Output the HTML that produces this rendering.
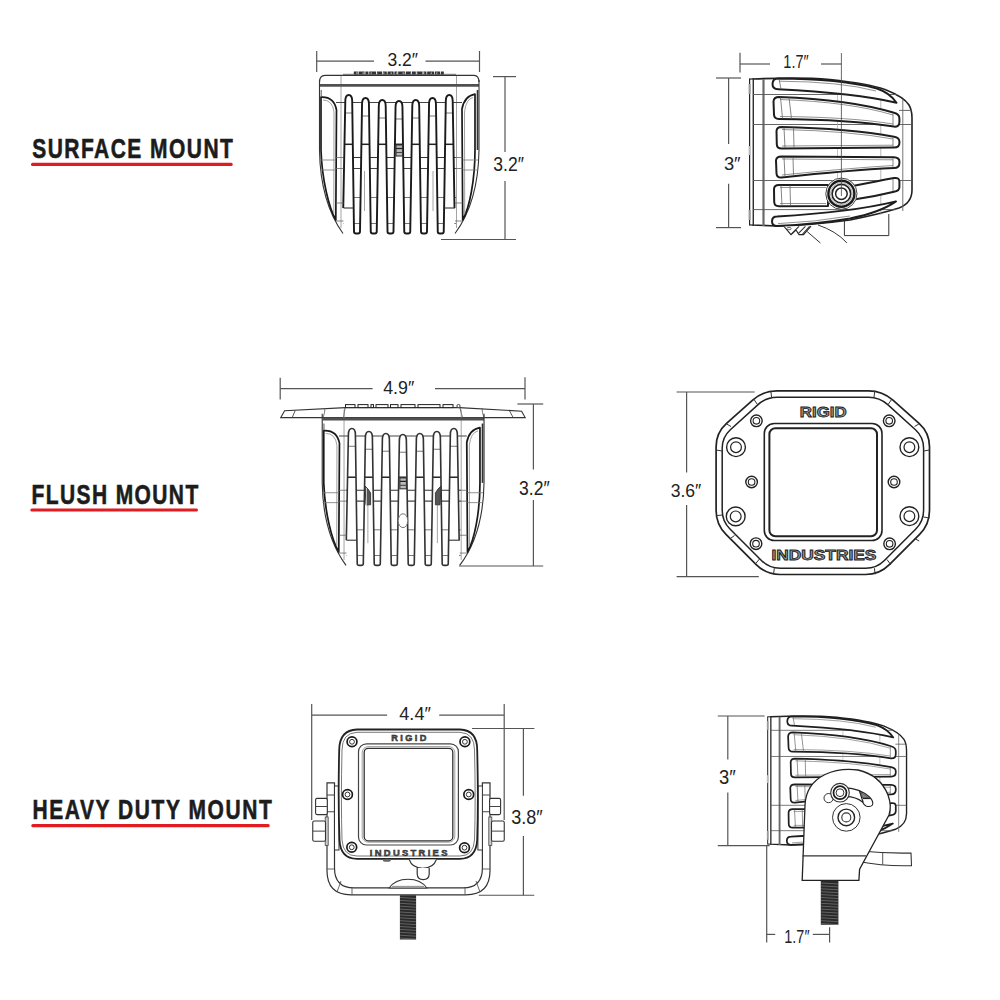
<!DOCTYPE html>
<html><head><meta charset="utf-8"><style>
html,body{margin:0;padding:0;background:#fff;}
svg{display:block;}
text{font-family:"Liberation Sans",sans-serif;}
</style></head><body>
<svg width="1000" height="1000" viewBox="0 0 1000 1000">
<rect width="1000" height="1000" fill="#fff"/>
<text transform="translate(32.2,157.9) scale(0.76,1)" x="0" y="0" font-size="27.6" font-weight="bold" textLength="264.1" lengthAdjust="spacing" fill="#1c1c1c" stroke="#1c1c1c" stroke-width="0.6" font-family="Liberation Sans">SURFACE MOUNT</text>
<rect x="31" y="162.7" width="201.7" height="3.3000000000000114" rx="1.5" fill="#e01b22"/>
<text transform="translate(31.6,503.6) scale(0.76,1)" x="0" y="0" font-size="27.6" font-weight="bold" textLength="219.2" lengthAdjust="spacing" fill="#1c1c1c" stroke="#1c1c1c" stroke-width="0.6" font-family="Liberation Sans">FLUSH MOUNT</text>
<rect x="30.3" y="508.4" width="167.7" height="3.2000000000000455" rx="1.5" fill="#e01b22"/>
<text transform="translate(32.4,819.0) scale(0.76,1)" x="0" y="0" font-size="27.6" font-weight="bold" textLength="315.0" lengthAdjust="spacing" fill="#1c1c1c" stroke="#1c1c1c" stroke-width="0.6" font-family="Liberation Sans">HEAVY DUTY MOUNT</text>
<rect x="31.3" y="823.9" width="238.39999999999998" height="3.300000000000068" rx="1.5" fill="#e01b22"/>
<line x1="316.7" y1="51" x2="316.7" y2="72" stroke="#555" stroke-width="1.2"/>
<line x1="479.5" y1="51" x2="479.5" y2="72" stroke="#555" stroke-width="1.2"/>
<line x1="316.7" y1="61.2" x2="374" y2="61.2" stroke="#555" stroke-width="1.2"/>
<line x1="425.5" y1="61.2" x2="479.5" y2="61.2" stroke="#555" stroke-width="1.2"/>
<text x="387.4" y="65.8" font-size="19.0" textLength="30.6" lengthAdjust="spacingAndGlyphs" fill="#222" font-family="Liberation Sans">3.2&#8243;</text>
<line x1="493" y1="76.6" x2="516" y2="76.6" stroke="#555" stroke-width="1.2"/>
<line x1="505" y1="76.6" x2="505" y2="152" stroke="#555" stroke-width="1.2"/>
<line x1="505" y1="181" x2="505" y2="239.5" stroke="#555" stroke-width="1.2"/>
<line x1="441" y1="239.5" x2="516" y2="239.5" stroke="#555" stroke-width="1.2"/>
<text x="493.3" y="170.8" font-size="19.5" textLength="30.6" lengthAdjust="spacingAndGlyphs" fill="#222" font-family="Liberation Sans">3.2&#8243;</text>
<path d="M319.5,82 Q319.5,75.5 325,75.3 L474,75.3 Q479,75.5 479,82" fill="none" stroke="#333" stroke-width="1.2"/>
<line x1="343" y1="74.3" x2="456" y2="74.3" stroke="#555" stroke-width="0.8"/>
<path d="M353.8,73.1 h90" stroke="#333" stroke-width="3" stroke-dasharray="4 0.8 6 0.8 3 0.8 7 0.8 5 0.8" fill="none"/>
<path d="M356,73.1 h86" stroke="#fff" stroke-width="0.8" stroke-dasharray="1.5 5 2 6 1.5 4" fill="none"/>
<line x1="341" y1="76" x2="341" y2="228" stroke="#9a9a9a" stroke-width="0.9"/>
<line x1="456.5" y1="76" x2="456.5" y2="228" stroke="#9a9a9a" stroke-width="0.9"/>
<line x1="336" y1="102.5" x2="462" y2="102.5" stroke="#444" stroke-width="1"/>
<line x1="343" y1="157.5" x2="456" y2="157.5" stroke="#333" stroke-width="1.2"/>
<line x1="343" y1="168.5" x2="456" y2="168.5" stroke="#444" stroke-width="1.1"/>
<line x1="343" y1="197.5" x2="456" y2="197.5" stroke="#666" stroke-width="0.9"/>
<line x1="343" y1="223.5" x2="456" y2="223.5" stroke="#666" stroke-width="0.9"/>
<path d="M343.25,233.5 L345.30,101 Q345.40,95 348.75,95 Q352.10,95 352.20,101 L354.00,233.5 Z" fill="#fff"/>
<line x1="344.80" y1="113" x2="352.70" y2="113" stroke="#666" stroke-width="0.9"/>
<line x1="344.70" y1="144.3" x2="352.80" y2="144.3" stroke="#222" stroke-width="1.5"/>
<path d="M360.00,233.5 L362.05,104 Q362.15,98 365.50,98 Q368.85,98 368.95,104 L370.75,233.5 Z" fill="#fff"/>
<line x1="361.55" y1="116" x2="369.45" y2="116" stroke="#666" stroke-width="0.9"/>
<line x1="361.45" y1="144.3" x2="369.55" y2="144.3" stroke="#222" stroke-width="1.5"/>
<path d="M376.75,233.5 L378.80,106 Q378.90,100 382.25,100 Q385.60,100 385.70,106 L387.50,233.5 Z" fill="#fff"/>
<line x1="378.30" y1="118" x2="386.20" y2="118" stroke="#666" stroke-width="0.9"/>
<line x1="378.20" y1="144.3" x2="386.30" y2="144.3" stroke="#222" stroke-width="1.5"/>
<path d="M393.50,233.5 L395.55,107 Q395.65,101 399.00,101 Q402.35,101 402.45,107 L404.25,233.5 Z" fill="#fff"/>
<line x1="395.05" y1="119" x2="402.95" y2="119" stroke="#666" stroke-width="0.9"/>
<line x1="394.95" y1="144.3" x2="403.05" y2="144.3" stroke="#222" stroke-width="1.5"/>
<path d="M410.25,233.5 L412.30,106 Q412.40,100 415.75,100 Q419.10,100 419.20,106 L421.00,233.5 Z" fill="#fff"/>
<line x1="411.80" y1="118" x2="419.70" y2="118" stroke="#666" stroke-width="0.9"/>
<line x1="411.70" y1="144.3" x2="419.80" y2="144.3" stroke="#222" stroke-width="1.5"/>
<path d="M427.00,233.5 L429.05,104 Q429.15,98 432.50,98 Q435.85,98 435.95,104 L437.75,233.5 Z" fill="#fff"/>
<line x1="428.55" y1="116" x2="436.45" y2="116" stroke="#666" stroke-width="0.9"/>
<line x1="428.45" y1="144.3" x2="436.55" y2="144.3" stroke="#222" stroke-width="1.5"/>
<path d="M443.75,233.5 L445.80,101 Q445.90,95 449.25,95 Q452.60,95 452.70,101 L454.50,233.5 Z" fill="#fff"/>
<line x1="445.30" y1="113" x2="453.20" y2="113" stroke="#666" stroke-width="0.9"/>
<line x1="445.20" y1="144.3" x2="453.30" y2="144.3" stroke="#222" stroke-width="1.5"/>
<path d="M343.25,208 L345.30,101 Q345.40,95 348.75,95 Q352.10,95 352.20,101 L354.00,231.5 Q354.00,233.5 356.00,233.5 L358.00,233.5 Q360.00,233.5 360.00,231.5 L362.05,104 Q362.15,98 365.50,98 Q368.85,98 368.95,104 L370.75,231.5 Q370.75,233.5 372.75,233.5 L374.75,233.5 Q376.75,233.5 376.75,231.5 L378.80,106 Q378.90,100 382.25,100 Q385.60,100 385.70,106 L387.50,231.5 Q387.50,233.5 389.50,233.5 L391.50,233.5 Q393.50,233.5 393.50,231.5 L395.55,107 Q395.65,101 399.00,101 Q402.35,101 402.45,107 L404.25,231.5 Q404.25,233.5 406.25,233.5 L408.25,233.5 Q410.25,233.5 410.25,231.5 L412.30,106 Q412.40,100 415.75,100 Q419.10,100 419.20,106 L421.00,231.5 Q421.00,233.5 423.00,233.5 L425.00,233.5 Q427.00,233.5 427.00,231.5 L429.05,104 Q429.15,98 432.50,98 Q435.85,98 435.95,104 L437.75,231.5 Q437.75,233.5 439.75,233.5 L441.75,233.5 Q443.75,233.5 443.75,231.5 L445.80,101 Q445.90,95 449.25,95 Q452.60,95 452.70,101 L454.50,208" fill="none" stroke="#1a1a1a" stroke-width="1.9" stroke-linejoin="round"/>
<line x1="364.5" y1="171" x2="364.5" y2="211" stroke="#9a9a9a" stroke-width="0.9"/>
<line x1="433" y1="171" x2="433" y2="211" stroke="#9a9a9a" stroke-width="0.9"/>
<rect x="396" y="145" width="6.5" height="11" fill="#bbb" stroke="#333" stroke-width="1.1"/>
<line x1="396" y1="148.5" x2="402.5" y2="148.5" stroke="#222" stroke-width="1.3"/>
<line x1="396" y1="152.5" x2="402.5" y2="152.5" stroke="#444" stroke-width="1.1"/>
<line x1="343.5" y1="208" x2="353.8" y2="208" stroke="#333" stroke-width="1.1"/>
<line x1="444" y1="208" x2="455" y2="208" stroke="#333" stroke-width="1.1"/>
<line x1="320" y1="85.4" x2="479" y2="85.4" stroke="#505050" stroke-width="2.8"/>
<path d="M319.5,80 L319.5,150 C320,185 329,214 343,233.5" fill="none" stroke="#333" stroke-width="1.1"/>
<path d="M479,80 L479,150 C478.5,185 469.5,214 455,233.5" fill="none" stroke="#333" stroke-width="1.1"/>
<path d="M321,97.2 Q334,96.5 336.5,110 L335.8,220 C329,208 322,180 321,150 Z" fill="#fff" stroke="#1a1a1a" stroke-width="1.7" stroke-linejoin="round"/>
<path d="M323,100 Q332.5,100 334,112 L333.8,214" fill="none" stroke="#888" stroke-width="0.8"/>
<path d="M475,94.2 Q464.5,96 462,109 L462.7,220 C469.5,208 475,180 475,150 Z" fill="#fff" stroke="#1a1a1a" stroke-width="1.7" stroke-linejoin="round"/>
<path d="M473,97.5 Q466,99 464.5,112 L464.7,214" fill="none" stroke="#888" stroke-width="0.8"/>
<line x1="477.5" y1="90" x2="477.5" y2="150" stroke="#333" stroke-width="1.6"/>
<line x1="321.2" y1="90" x2="321.2" y2="97" stroke="#555" stroke-width="1"/>
<line x1="336" y1="157.5" x2="343.5" y2="157.5" stroke="#666" stroke-width="0.8"/>
<line x1="455" y1="157.5" x2="462.5" y2="157.5" stroke="#666" stroke-width="0.8"/>
<line x1="336" y1="168.5" x2="343.5" y2="168.5" stroke="#666" stroke-width="0.8"/>
<line x1="455" y1="168.5" x2="462.5" y2="168.5" stroke="#666" stroke-width="0.8"/>
<line x1="336" y1="203" x2="343.5" y2="203" stroke="#666" stroke-width="0.8"/>
<line x1="455" y1="203" x2="462.5" y2="203" stroke="#666" stroke-width="0.8"/>
<line x1="336" y1="221" x2="343.5" y2="221" stroke="#666" stroke-width="0.8"/>
<line x1="455" y1="221" x2="462.5" y2="221" stroke="#666" stroke-width="0.8"/>
<line x1="320" y1="160" x2="336" y2="160" stroke="#777" stroke-width="0.8"/>
<line x1="320" y1="170" x2="336" y2="170" stroke="#777" stroke-width="0.8"/>
<line x1="462.5" y1="160" x2="478" y2="160" stroke="#777" stroke-width="0.8"/>
<line x1="462.5" y1="170" x2="478" y2="170" stroke="#777" stroke-width="0.8"/>
<line x1="740" y1="52.8" x2="740" y2="72.6" stroke="#555" stroke-width="1.2"/>
<line x1="740" y1="64" x2="770" y2="64" stroke="#555" stroke-width="1.2"/>
<line x1="821" y1="64" x2="841.5" y2="64" stroke="#555" stroke-width="1.2"/>
<text x="783.3" y="67.6" font-size="19.2" textLength="25.4" lengthAdjust="spacingAndGlyphs" fill="#222" font-family="Liberation Sans">1.7&#8243;</text>
<line x1="716" y1="78" x2="741" y2="78" stroke="#555" stroke-width="1.2"/>
<line x1="728.6" y1="78" x2="728.6" y2="144" stroke="#555" stroke-width="1.2"/>
<line x1="728.6" y1="183.8" x2="728.6" y2="227.6" stroke="#555" stroke-width="1.2"/>
<line x1="716" y1="227.6" x2="741" y2="227.6" stroke="#555" stroke-width="1.2"/>
<text x="723.9" y="169.5" font-size="19.2" textLength="16.7" lengthAdjust="spacingAndGlyphs" fill="#222" font-family="Liberation Sans">3&#8243;</text>
<path d="M753,79 Q800,77 830,79.5 Q868,83.5 885,89.5 Q904,97 909,105 Q912,110 912,118 L912,190 Q912,203 899,208 Q880,214 850,220 Q810,225.5 776,226 L753,225 Z" fill="#fff" stroke="#222" stroke-width="1.6"/>
<rect x="749.6" y="79" width="3.6" height="146" fill="#fff" stroke="#222" stroke-width="1.2"/>
<rect x="748.6" y="84" width="2" height="10" fill="#999"/><rect x="748.6" y="146" width="2" height="9" fill="#bbb"/><rect x="748.6" y="210" width="2" height="10" fill="#999"/>
<line x1="763.5" y1="79" x2="763.5" y2="226" stroke="#6a6a6a" stroke-width="2.2"/>
<line x1="753" y1="94.5" x2="897" y2="94.5" stroke="#555" stroke-width="0.9"/>
<line x1="753" y1="124.5" x2="912" y2="124.5" stroke="#555" stroke-width="0.9"/>
<line x1="753" y1="180.5" x2="912" y2="180.5" stroke="#555" stroke-width="0.9"/>
<line x1="753" y1="209.6" x2="896" y2="209.6" stroke="#555" stroke-width="0.9"/>
<line x1="899" y1="110.4" x2="912" y2="110.4" stroke="#555" stroke-width="0.9"/>
<line x1="902.8" y1="99" x2="902.8" y2="211" stroke="#666" stroke-width="0.9"/>
<line x1="880.8" y1="96" x2="880.8" y2="215" stroke="#999" stroke-width="0.7"/>
<line x1="837.5" y1="88" x2="837.5" y2="220" stroke="#aaa" stroke-width="0.7"/>
<path d="M778,78.6 Q840,78.8 877,88.5 Q890,93 896.5,102.7 Q855,93 778,89.2 Q772.5,89 772.5,84 Q772.8,78.6 778,78.6 Z" fill="#fff" stroke="#1e1e1e" stroke-width="2.0" stroke-linejoin="round"/>
<path d="M779,97 Q850,99.5 894,112.8 Q899.4,114.2 899.4,118.5 L899.4,122 Q899.4,127 894,126.6 Q850,119.5 779,119 Q774.2,119 774,114.5 L773.5,101.5 Q773.8,97 779,97 Z" fill="#fff" stroke="#1e1e1e" stroke-width="2.0" stroke-linejoin="round"/>
<path d="M781.5,127 Q850,128.5 894,136.8 Q899.4,137.8 899.4,141.5 L899.4,143 Q899.4,147.6 894,147.6 L781.5,148.5 Q777,148.5 776.8,144.5 L776.5,131 Q776.8,127 781.5,127 Z" fill="#fff" stroke="#1e1e1e" stroke-width="2.0" stroke-linejoin="round"/>
<path d="M781.5,156.5 L894,157.2 Q899.4,157.5 899.4,161.5 L899.4,163 Q899.4,168 894,168 Q850,170 781.5,177.5 Q776.8,177.8 776.5,173.5 L776,160.5 Q776.3,156.5 781.5,156.5 Z" fill="#fff" stroke="#1e1e1e" stroke-width="2.0" stroke-linejoin="round"/>
<path d="M779,185 L828,185 L828,206 L779,206.2 Q774.3,206.2 774.2,202 L774,189 Q774.2,185 779,185 Z" fill="#fff" stroke="#1e1e1e" stroke-width="2.0" stroke-linejoin="round"/>
<path d="M854,185.8 Q878,181 894,178 Q899.4,177.3 899.4,181.5 L899.4,187 Q899.4,191 894,191.8 Q875,196.5 854,199.6 Z" fill="#fff" stroke="#1e1e1e" stroke-width="2.0" stroke-linejoin="round"/>
<path d="M777,216.4 Q850,212.5 896,201.4 Q880,212.5 850,218.5 Q815,224.5 777,226 Q772,226 772,221.2 Q772,216.4 777,216.4 Z" fill="#fff" stroke="#1e1e1e" stroke-width="2.0" stroke-linejoin="round"/>
<path d="M779,81.2 Q840,81.5 876,91" fill="none" stroke="#777" stroke-width="0.8"/>
<path d="M780,99.5 Q850,102 893,115" fill="none" stroke="#777" stroke-width="0.8"/>
<path d="M782,129.5 Q850,131 893,139" fill="none" stroke="#777" stroke-width="0.8"/>
<path d="M782,159 L893,159.8" fill="none" stroke="#777" stroke-width="0.8"/>
<path d="M780,187.5 L826,187.5" fill="none" stroke="#777" stroke-width="0.8"/>
<path d="M780,116.5 Q850,117 893,124" fill="none" stroke="#777" stroke-width="0.8"/>
<path d="M782,146 L893,145.2" fill="none" stroke="#777" stroke-width="0.8"/>
<path d="M782,175 Q850,168 893,165.5" fill="none" stroke="#777" stroke-width="0.8"/>
<path d="M780,203.5 L826,203.5" fill="none" stroke="#777" stroke-width="0.8"/>
<path d="M778,223.6 Q815,222 850,216" fill="none" stroke="#777" stroke-width="0.8"/>
<line x1="780.5" y1="97.5" x2="782.5" y2="118.5" stroke="#666" stroke-width="0.8"/>
<line x1="789" y1="97.5" x2="791.5" y2="118.8" stroke="#666" stroke-width="0.8"/>
<line x1="784" y1="127.5" x2="785" y2="148" stroke="#666" stroke-width="0.8"/>
<line x1="793.5" y1="127.5" x2="794" y2="148" stroke="#666" stroke-width="0.8"/>
<line x1="784" y1="157" x2="785" y2="177" stroke="#666" stroke-width="0.8"/>
<line x1="793" y1="157" x2="793.5" y2="176" stroke="#666" stroke-width="0.8"/>
<line x1="781" y1="185.5" x2="782" y2="205.5" stroke="#666" stroke-width="0.8"/>
<line x1="790" y1="185.5" x2="790.5" y2="205.5" stroke="#666" stroke-width="0.8"/>
<line x1="779" y1="79" x2="781" y2="88.6" stroke="#666" stroke-width="0.8"/>
<line x1="893" y1="113.5" x2="893" y2="126" stroke="#666" stroke-width="0.8"/>
<line x1="893" y1="137.5" x2="893" y2="147" stroke="#666" stroke-width="0.8"/>
<line x1="893" y1="158" x2="893" y2="167.5" stroke="#666" stroke-width="0.8"/>
<line x1="893" y1="179" x2="893" y2="191" stroke="#666" stroke-width="0.8"/>
<circle cx="841.4" cy="193.7" r="15.6" fill="#fff" stroke="#444" stroke-width="1"/>
<circle cx="841.4" cy="193.7" r="13" fill="none" stroke="#1a1a1a" stroke-width="2.4"/>
<circle cx="841.4" cy="193.7" r="11" fill="none" stroke="#999" stroke-width="0.8"/>
<circle cx="841.4" cy="193.7" r="9.3" fill="none" stroke="#222" stroke-width="1.6"/>
<circle cx="841.4" cy="193.7" r="5.8" fill="none" stroke="#222" stroke-width="1.5"/>
<line x1="841.4" y1="53" x2="841.4" y2="196" stroke="#444" stroke-width="0.8"/>
<path d="M784,226.5 L791,234.6 L796,230 L799,234.6 L803.5,234.6 L811,226.2" fill="#fff" stroke="#222" stroke-width="1.1"/>
<path d="M791.5,233.8 L799,226.4 M798.2,233.6 L805.4,226.4 M802.6,234 L809.6,226.4" stroke="#333" stroke-width="1.1"/>
<ellipse cx="789" cy="228.6" rx="2.2" ry="1.2" fill="none" stroke="#444" stroke-width="0.8"/>
<line x1="807.2" y1="231.6" x2="820.4" y2="243" stroke="#333" stroke-width="1"/>
<path d="M818,225 Q836,231 846.8,242.8" fill="none" stroke="#333" stroke-width="1"/>
<path d="M844.4,220.5 L844.4,235.6 L888.8,235.6 L888.8,214" fill="none" stroke="#333" stroke-width="1"/>
<line x1="280.2" y1="377.8" x2="280.2" y2="399.4" stroke="#555" stroke-width="1.2"/>
<line x1="525" y1="377.2" x2="525" y2="399.4" stroke="#555" stroke-width="1.2"/>
<line x1="280.2" y1="388.6" x2="372.6" y2="388.6" stroke="#555" stroke-width="1.2"/>
<line x1="435" y1="388.6" x2="525" y2="388.6" stroke="#555" stroke-width="1.2"/>
<text x="383.2" y="393.7" font-size="18.9" textLength="31.1" lengthAdjust="spacingAndGlyphs" fill="#222" font-family="Liberation Sans">4.9&#8243;</text>
<line x1="517.4" y1="404" x2="543.2" y2="404" stroke="#555" stroke-width="1.2"/>
<line x1="533.4" y1="404" x2="533.4" y2="469.6" stroke="#555" stroke-width="1.2"/>
<line x1="533.4" y1="500" x2="533.4" y2="566" stroke="#555" stroke-width="1.2"/>
<line x1="459" y1="566" x2="543.2" y2="566" stroke="#555" stroke-width="1.2"/>
<text x="519.1" y="494.8" font-size="19.5" textLength="30.6" lengthAdjust="spacingAndGlyphs" fill="#222" font-family="Liberation Sans">3.2&#8243;</text>
<path d="M280.8,417.6 L284.6,410.8 L345.6,407.6 L459.2,407.6 L521.6,411.2 L525.2,417.6 Z" fill="#fff" stroke="#333" stroke-width="1.1"/>
<line x1="295.2" y1="410.6" x2="292.2" y2="417.6" stroke="#444" stroke-width="0.9"/>
<line x1="509.6" y1="411" x2="513.2" y2="417.6" stroke="#444" stroke-width="0.9"/>
<path d="M323,418 Q325,412 325,408" fill="none" stroke="#555" stroke-width="0.8"/>
<path d="M484,418 Q482,412 482,408" fill="none" stroke="#555" stroke-width="0.8"/>
<rect x="345.5" y="404.6" width="9.5" height="3" fill="#fff" stroke="#222" stroke-width="1"/>
<rect x="358" y="404.6" width="10" height="3" fill="#fff" stroke="#222" stroke-width="1"/>
<rect x="371" y="404.6" width="2.5" height="3" fill="#fff" stroke="#222" stroke-width="1"/>
<rect x="376" y="404.6" width="12" height="3" fill="#fff" stroke="#222" stroke-width="1"/>
<rect x="390.5" y="404.6" width="7.5" height="3" fill="#fff" stroke="#222" stroke-width="1"/>
<rect x="401" y="404.6" width="14" height="3" fill="#fff" stroke="#222" stroke-width="1"/>
<rect x="418" y="404.6" width="22" height="3" fill="#fff" stroke="#222" stroke-width="1"/>
<rect x="443" y="404.6" width="10" height="3" fill="#fff" stroke="#222" stroke-width="1"/>
<circle cx="458.5" cy="406" r="1.6" fill="#fff" stroke="#333" stroke-width="0.9"/>
<line x1="345" y1="408" x2="343.5" y2="418" stroke="#444" stroke-width="0.9"/>
<line x1="460" y1="408" x2="462.5" y2="418" stroke="#444" stroke-width="0.9"/>
<g transform="translate(351.9,418.6) scale(1.0144,0.9886) translate(-348.75,-85)"><line x1="341" y1="76" x2="341" y2="228" stroke="#9a9a9a" stroke-width="0.9"/>
<line x1="456.5" y1="76" x2="456.5" y2="228" stroke="#9a9a9a" stroke-width="0.9"/>
<line x1="336" y1="102.5" x2="462" y2="102.5" stroke="#444" stroke-width="1"/>
<line x1="343" y1="157.5" x2="456" y2="157.5" stroke="#333" stroke-width="1.2"/>
<line x1="343" y1="168.5" x2="456" y2="168.5" stroke="#444" stroke-width="1.1"/>
<line x1="343" y1="197.5" x2="456" y2="197.5" stroke="#666" stroke-width="0.9"/>
<line x1="343" y1="223.5" x2="456" y2="223.5" stroke="#666" stroke-width="0.9"/>
<path d="M343.25,233.5 L345.30,101 Q345.40,95 348.75,95 Q352.10,95 352.20,101 L354.00,233.5 Z" fill="#fff"/>
<line x1="344.80" y1="113" x2="352.70" y2="113" stroke="#666" stroke-width="0.9"/>
<line x1="344.70" y1="144.3" x2="352.80" y2="144.3" stroke="#222" stroke-width="1.5"/>
<path d="M360.00,233.5 L362.05,104 Q362.15,98 365.50,98 Q368.85,98 368.95,104 L370.75,233.5 Z" fill="#fff"/>
<line x1="361.55" y1="116" x2="369.45" y2="116" stroke="#666" stroke-width="0.9"/>
<line x1="361.45" y1="144.3" x2="369.55" y2="144.3" stroke="#222" stroke-width="1.5"/>
<path d="M376.75,233.5 L378.80,106 Q378.90,100 382.25,100 Q385.60,100 385.70,106 L387.50,233.5 Z" fill="#fff"/>
<line x1="378.30" y1="118" x2="386.20" y2="118" stroke="#666" stroke-width="0.9"/>
<line x1="378.20" y1="144.3" x2="386.30" y2="144.3" stroke="#222" stroke-width="1.5"/>
<path d="M393.50,233.5 L395.55,107 Q395.65,101 399.00,101 Q402.35,101 402.45,107 L404.25,233.5 Z" fill="#fff"/>
<line x1="395.05" y1="119" x2="402.95" y2="119" stroke="#666" stroke-width="0.9"/>
<line x1="394.95" y1="144.3" x2="403.05" y2="144.3" stroke="#222" stroke-width="1.5"/>
<path d="M410.25,233.5 L412.30,106 Q412.40,100 415.75,100 Q419.10,100 419.20,106 L421.00,233.5 Z" fill="#fff"/>
<line x1="411.80" y1="118" x2="419.70" y2="118" stroke="#666" stroke-width="0.9"/>
<line x1="411.70" y1="144.3" x2="419.80" y2="144.3" stroke="#222" stroke-width="1.5"/>
<path d="M427.00,233.5 L429.05,104 Q429.15,98 432.50,98 Q435.85,98 435.95,104 L437.75,233.5 Z" fill="#fff"/>
<line x1="428.55" y1="116" x2="436.45" y2="116" stroke="#666" stroke-width="0.9"/>
<line x1="428.45" y1="144.3" x2="436.55" y2="144.3" stroke="#222" stroke-width="1.5"/>
<path d="M443.75,233.5 L445.80,101 Q445.90,95 449.25,95 Q452.60,95 452.70,101 L454.50,233.5 Z" fill="#fff"/>
<line x1="445.30" y1="113" x2="453.20" y2="113" stroke="#666" stroke-width="0.9"/>
<line x1="445.20" y1="144.3" x2="453.30" y2="144.3" stroke="#222" stroke-width="1.5"/>
<path d="M343.25,208 L345.30,101 Q345.40,95 348.75,95 Q352.10,95 352.20,101 L354.00,231.5 Q354.00,233.5 356.00,233.5 L358.00,233.5 Q360.00,233.5 360.00,231.5 L362.05,104 Q362.15,98 365.50,98 Q368.85,98 368.95,104 L370.75,231.5 Q370.75,233.5 372.75,233.5 L374.75,233.5 Q376.75,233.5 376.75,231.5 L378.80,106 Q378.90,100 382.25,100 Q385.60,100 385.70,106 L387.50,231.5 Q387.50,233.5 389.50,233.5 L391.50,233.5 Q393.50,233.5 393.50,231.5 L395.55,107 Q395.65,101 399.00,101 Q402.35,101 402.45,107 L404.25,231.5 Q404.25,233.5 406.25,233.5 L408.25,233.5 Q410.25,233.5 410.25,231.5 L412.30,106 Q412.40,100 415.75,100 Q419.10,100 419.20,106 L421.00,231.5 Q421.00,233.5 423.00,233.5 L425.00,233.5 Q427.00,233.5 427.00,231.5 L429.05,104 Q429.15,98 432.50,98 Q435.85,98 435.95,104 L437.75,231.5 Q437.75,233.5 439.75,233.5 L441.75,233.5 Q443.75,233.5 443.75,231.5 L445.80,101 Q445.90,95 449.25,95 Q452.60,95 452.70,101 L454.50,208" fill="none" stroke="#333" stroke-width="1.6" stroke-linejoin="round"/>
<line x1="364.5" y1="171" x2="364.5" y2="211" stroke="#9a9a9a" stroke-width="0.9"/>
<line x1="433" y1="171" x2="433" y2="211" stroke="#9a9a9a" stroke-width="0.9"/>
<rect x="396" y="145" width="6.5" height="11" fill="#bbb" stroke="#333" stroke-width="1.1"/>
<line x1="396" y1="148.5" x2="402.5" y2="148.5" stroke="#222" stroke-width="1.3"/>
<line x1="396" y1="152.5" x2="402.5" y2="152.5" stroke="#444" stroke-width="1.1"/>
<line x1="343.5" y1="208" x2="353.8" y2="208" stroke="#333" stroke-width="1.1"/>
<line x1="444" y1="208" x2="455" y2="208" stroke="#333" stroke-width="1.1"/>
<line x1="320" y1="85.4" x2="479" y2="85.4" stroke="#505050" stroke-width="2.8"/>
<path d="M319.5,80 L319.5,150 C320,185 329,214 343,233.5" fill="none" stroke="#333" stroke-width="1.1"/>
<path d="M479,80 L479,150 C478.5,185 469.5,214 455,233.5" fill="none" stroke="#333" stroke-width="1.1"/>
<path d="M321,97.2 Q334,96.5 336.5,110 L335.8,220 C329,208 322,180 321,150 Z" fill="#fff" stroke="#1a1a1a" stroke-width="1.7" stroke-linejoin="round"/>
<path d="M323,100 Q332.5,100 334,112 L333.8,214" fill="none" stroke="#888" stroke-width="0.8"/>
<path d="M475,94.2 Q464.5,96 462,109 L462.7,220 C469.5,208 475,180 475,150 Z" fill="#fff" stroke="#1a1a1a" stroke-width="1.7" stroke-linejoin="round"/>
<path d="M473,97.5 Q466,99 464.5,112 L464.7,214" fill="none" stroke="#888" stroke-width="0.8"/>
<line x1="477.5" y1="90" x2="477.5" y2="150" stroke="#333" stroke-width="1.6"/>
<line x1="321.2" y1="90" x2="321.2" y2="97" stroke="#555" stroke-width="1"/>
<line x1="336" y1="157.5" x2="343.5" y2="157.5" stroke="#666" stroke-width="0.8"/>
<line x1="455" y1="157.5" x2="462.5" y2="157.5" stroke="#666" stroke-width="0.8"/>
<line x1="336" y1="168.5" x2="343.5" y2="168.5" stroke="#666" stroke-width="0.8"/>
<line x1="455" y1="168.5" x2="462.5" y2="168.5" stroke="#666" stroke-width="0.8"/>
<line x1="336" y1="203" x2="343.5" y2="203" stroke="#666" stroke-width="0.8"/>
<line x1="455" y1="203" x2="462.5" y2="203" stroke="#666" stroke-width="0.8"/>
<line x1="336" y1="221" x2="343.5" y2="221" stroke="#666" stroke-width="0.8"/>
<line x1="455" y1="221" x2="462.5" y2="221" stroke="#666" stroke-width="0.8"/>
<line x1="320" y1="160" x2="336" y2="160" stroke="#777" stroke-width="0.8"/>
<line x1="320" y1="170" x2="336" y2="170" stroke="#777" stroke-width="0.8"/>
<line x1="462.5" y1="160" x2="478" y2="160" stroke="#777" stroke-width="0.8"/>
<line x1="462.5" y1="170" x2="478" y2="170" stroke="#777" stroke-width="0.8"/></g>
<path d="M365,486 L368,489 L370.6,493 L370.6,504.8 L366,504.8 Z" fill="#555" stroke="#333" stroke-width="0.9"/>
<line x1="366.5" y1="488" x2="366.5" y2="505" stroke="#ddd" stroke-width="0.8"/>
<path d="M441,486 L438,489 L435.4,493 L435.4,504.8 L440,504.8 Z" fill="#555" stroke="#333" stroke-width="0.9"/>
<ellipse cx="403" cy="520.7" rx="4.8" ry="6.9" fill="#fff" stroke="#666" stroke-width="0.9"/>
<line x1="676.6" y1="392" x2="754.6" y2="392" stroke="#555" stroke-width="1.2"/>
<line x1="686.6" y1="392" x2="686.6" y2="472.4" stroke="#555" stroke-width="1.2"/>
<line x1="686.6" y1="505" x2="686.6" y2="576.6" stroke="#555" stroke-width="1.2"/>
<line x1="676.6" y1="576.6" x2="758.8" y2="576.6" stroke="#555" stroke-width="1.2"/>
<text x="670.7" y="497.0" font-size="19.2" textLength="30.6" lengthAdjust="spacingAndGlyphs" fill="#222" font-family="Liberation Sans">3.6&#8243;</text>
<path d="M752.66,400.13 Q763.10,390.80 777.10,390.80 L868.50,390.80 Q882.50,390.80 892.94,400.13 L919.06,423.47 Q929.50,432.80 929.50,446.80 L929.50,510.50 Q929.50,524.50 919.60,534.40 L889.40,564.60 Q879.50,574.50 865.50,574.50 L780.10,574.50 Q766.10,574.50 756.20,564.60 L726.00,534.40 Q716.10,524.50 716.10,510.50 L716.10,446.80 Q716.10,432.80 726.54,423.47 Z" fill="none" stroke="#222" stroke-width="1.7"/>
<path d="M758.06,404.60 Q766.20,397.20 777.20,397.20 L868.60,397.20 Q879.60,397.20 887.74,404.60 L915.46,429.80 Q923.60,437.20 923.60,448.20 L923.60,510.20 Q923.60,521.20 915.82,528.98 L884.38,560.42 Q876.60,568.20 865.60,568.20 L780.20,568.20 Q769.20,568.20 761.42,560.42 L729.98,528.98 Q722.20,521.20 722.20,510.20 L722.20,448.20 Q722.20,437.20 730.34,429.80 Z" fill="none" stroke="#222" stroke-width="1.5"/>
<line x1="770.8" y1="390.8" x2="771.6" y2="397.2" stroke="#333" stroke-width="1"/>
<line x1="874.8" y1="390.8" x2="874" y2="397.2" stroke="#333" stroke-width="1"/>
<line x1="754" y1="399.5" x2="757.5" y2="404.5" stroke="#333" stroke-width="1"/>
<line x1="891.6" y1="399.5" x2="888.1" y2="404.5" stroke="#333" stroke-width="1"/>
<line x1="726.4" y1="423.8" x2="731" y2="426.5" stroke="#333" stroke-width="1"/>
<line x1="919.2" y1="423.8" x2="914.6" y2="426.5" stroke="#333" stroke-width="1"/>
<line x1="716.1" y1="450" x2="722.2" y2="451" stroke="#333" stroke-width="1"/>
<line x1="929.5" y1="450" x2="923.6" y2="451" stroke="#333" stroke-width="1"/>
<line x1="716.1" y1="515.7" x2="722.2" y2="515" stroke="#333" stroke-width="1"/>
<line x1="929.5" y1="518" x2="923.6" y2="517" stroke="#333" stroke-width="1"/>
<line x1="730" y1="538.8" x2="734.5" y2="535.5" stroke="#333" stroke-width="1"/>
<line x1="890.8" y1="564.8" x2="887" y2="559.5" stroke="#333" stroke-width="1"/>
<line x1="755.3" y1="564" x2="759.5" y2="559" stroke="#333" stroke-width="1"/>
<line x1="773.5" y1="574.5" x2="774.3" y2="568.2" stroke="#333" stroke-width="1"/>
<line x1="875.2" y1="574.4" x2="874.4" y2="568.2" stroke="#333" stroke-width="1"/>
<line x1="919.2" y1="541" x2="914.6" y2="538.5" stroke="#333" stroke-width="1"/>
<rect x="764.3" y="423.5" width="117.7" height="117" rx="10" fill="none" stroke="#222" stroke-width="1.6"/>
<rect x="769.4" y="428.2" width="107.6" height="108" rx="6" fill="none" stroke="#222" stroke-width="2"/>
<circle cx="756.4" cy="420.8" r="5.8" fill="none" stroke="#222" stroke-width="1.4"/><circle cx="756.4" cy="420.8" r="3.3" fill="none" stroke="#222" stroke-width="1.1"/>
<circle cx="889.2" cy="420.8" r="5.8" fill="none" stroke="#222" stroke-width="1.4"/><circle cx="889.2" cy="420.8" r="3.3" fill="none" stroke="#222" stroke-width="1.1"/>
<circle cx="751.6" cy="482" r="5.8" fill="none" stroke="#222" stroke-width="1.4"/><circle cx="751.6" cy="482" r="3.3" fill="none" stroke="#222" stroke-width="1.1"/>
<circle cx="894" cy="482" r="5.8" fill="none" stroke="#222" stroke-width="1.4"/><circle cx="894" cy="482" r="3.3" fill="none" stroke="#222" stroke-width="1.1"/>
<circle cx="756" cy="543.7" r="5.8" fill="none" stroke="#222" stroke-width="1.4"/><circle cx="756" cy="543.7" r="3.3" fill="none" stroke="#222" stroke-width="1.1"/>
<circle cx="889.6" cy="543.8" r="5.8" fill="none" stroke="#222" stroke-width="1.4"/><circle cx="889.6" cy="543.8" r="3.3" fill="none" stroke="#222" stroke-width="1.1"/>
<circle cx="736" cy="447.2" r="9.4" fill="none" stroke="#222" stroke-width="1.4"/><circle cx="736" cy="447.2" r="5.4" fill="none" stroke="#222" stroke-width="1.2"/>
<circle cx="909.4" cy="447.2" r="9.4" fill="none" stroke="#222" stroke-width="1.4"/><circle cx="909.4" cy="447.2" r="5.4" fill="none" stroke="#222" stroke-width="1.2"/>
<circle cx="735.7" cy="516.4" r="9.4" fill="none" stroke="#222" stroke-width="1.4"/><circle cx="735.7" cy="516.4" r="5.4" fill="none" stroke="#222" stroke-width="1.2"/>
<circle cx="909.4" cy="516.2" r="9.4" fill="none" stroke="#222" stroke-width="1.4"/><circle cx="909.4" cy="516.2" r="5.4" fill="none" stroke="#222" stroke-width="1.2"/>
<text x="799.8" y="417.4" font-size="14.6" font-weight="bold" textLength="46.8" lengthAdjust="spacingAndGlyphs" fill="#999" stroke="#1a1a1a" stroke-width="0.85" font-family="Liberation Sans">RIGID</text>
<text x="771.4" y="559.8" font-size="14.2" font-weight="bold" textLength="105" lengthAdjust="spacingAndGlyphs" fill="#999" stroke="#1a1a1a" stroke-width="0.85" font-family="Liberation Sans">INDUSTRIES</text>
<line x1="311.7" y1="704" x2="311.7" y2="820" stroke="#555" stroke-width="1.2"/>
<line x1="504.2" y1="704" x2="504.2" y2="820" stroke="#555" stroke-width="1.2"/>
<line x1="311.7" y1="715.2" x2="387.1" y2="715.2" stroke="#555" stroke-width="1.2"/>
<line x1="439.2" y1="715.2" x2="504.2" y2="715.2" stroke="#555" stroke-width="1.2"/>
<text x="399.3" y="719.8" font-size="18.3" textLength="31.6" lengthAdjust="spacingAndGlyphs" fill="#222" font-family="Liberation Sans">4.4&#8243;</text>
<line x1="472" y1="728.5" x2="534.4" y2="728.5" stroke="#555" stroke-width="1.2"/>
<line x1="523.4" y1="728.5" x2="523.4" y2="795.8" stroke="#555" stroke-width="1.2"/>
<line x1="523.4" y1="836" x2="523.4" y2="895.25" stroke="#555" stroke-width="1.2"/>
<line x1="478.75" y1="895.25" x2="534.25" y2="895.25" stroke="#555" stroke-width="1.2"/>
<text x="511.2" y="824.3" font-size="19.6" textLength="31.5" lengthAdjust="spacingAndGlyphs" fill="#222" font-family="Liberation Sans">3.8&#8243;</text>
<path d="M327,782.8 L327,870.5 Q327,894.8 351,894.8 L466,894.8 Q490,894.8 490,870.5 L490,782.8 L482.4,782.8 L482.4,868 Q482.4,887.9 463,887.9 L354,887.9 Q334.5,887.9 334.5,868 L334.5,782.8 Z" fill="#fff" stroke="#333" stroke-width="1.2"/>
<line x1="327" y1="869" x2="334.5" y2="869" stroke="#555" stroke-width="0.9"/><line x1="482.4" y1="869" x2="490" y2="869" stroke="#555" stroke-width="0.9"/>
<line x1="341" y1="881" x2="337" y2="892" stroke="#555" stroke-width="0.9"/><line x1="476" y1="881" x2="480" y2="892" stroke="#555" stroke-width="0.9"/>
<line x1="352" y1="887.9" x2="352" y2="894.8" stroke="#555" stroke-width="0.9"/><line x1="465" y1="887.9" x2="465" y2="894.8" stroke="#555" stroke-width="0.9"/>
<rect x="334.5" y="786" width="4.5" height="64" fill="#fff" stroke="#333" stroke-width="1"/>
<rect x="477.9" y="786" width="4.5" height="64" fill="#fff" stroke="#333" stroke-width="1"/>
<line x1="327" y1="795" x2="334.5" y2="795" stroke="#444" stroke-width="1"/><line x1="482.4" y1="795" x2="490" y2="795" stroke="#444" stroke-width="1"/>
<line x1="327" y1="811.75" x2="334.5" y2="811.75" stroke="#444" stroke-width="1"/><line x1="482.4" y1="811.75" x2="490" y2="811.75" stroke="#444" stroke-width="1"/>
<rect x="325.2" y="817" width="3" height="28.5" fill="#ccc" stroke="#444" stroke-width="0.8"/>
<rect x="488.8" y="817" width="3" height="28.5" fill="#ccc" stroke="#444" stroke-width="0.8"/>
<rect x="315.6" y="798.4" width="11.70" height="16.20" rx="1.5" fill="#fff" stroke="#333" stroke-width="1.1"/>
<line x1="315.6" y1="806.50" x2="327.3" y2="806.50" stroke="#444" stroke-width="1"/>
<rect x="312.75" y="821" width="12.75" height="20.25" rx="1.5" fill="#fff" stroke="#333" stroke-width="1.1"/>
<line x1="312.75" y1="831.12" x2="325.5" y2="831.12" stroke="#444" stroke-width="1"/>
<rect x="489.6" y="798.4" width="11.00" height="16.20" rx="1.5" fill="#fff" stroke="#333" stroke-width="1.1"/>
<line x1="489.6" y1="806.50" x2="500.6" y2="806.50" stroke="#444" stroke-width="1"/>
<rect x="491.5" y="821" width="12.75" height="20.25" rx="1.5" fill="#fff" stroke="#333" stroke-width="1.1"/>
<line x1="491.5" y1="831.12" x2="504.25" y2="831.12" stroke="#444" stroke-width="1"/>
<path d="M357,729.5 L460,729.5 Q477.2,730 477.2,750 Q478.5,800 477.2,840 Q476,858.8 460,858.8 L357,858.8 Q340.5,858.8 339.5,840 Q338,800 339.2,750 Q339.5,730 357,729.5 Z" fill="#fff" stroke="#222" stroke-width="1.8"/>
<path d="M357,732.3 L460,732.3 Q474.5,733 474.5,750 Q475.8,800 474.5,840 Q473.5,856 460,856" fill="none" stroke="#555" stroke-width="0.8"/>
<path d="M357,732.3 Q342,733 342,750 Q340.8,800 342,840 Q343,856 357,856 L460,856" fill="none" stroke="#555" stroke-width="0.8"/>
<rect x="358.5" y="743.8" width="99.9" height="101.2" rx="8" fill="none" stroke="#444" stroke-width="1.2"/>
<rect x="362.2" y="746.6" width="92.6" height="95.6" rx="6" fill="none" stroke="#888" stroke-width="0.8"/>
<rect x="364.2" y="748.4" width="88.6" height="92.4" rx="4" fill="none" stroke="#333" stroke-width="1.3"/>
<circle cx="352" cy="741.8" r="4.9" fill="#fff" stroke="#1a1a1a" stroke-width="1.7"/><circle cx="352" cy="741.8" r="2.4" fill="none" stroke="#333" stroke-width="1"/>
<circle cx="464.9" cy="741.8" r="4.9" fill="#fff" stroke="#1a1a1a" stroke-width="1.7"/><circle cx="464.9" cy="741.8" r="2.4" fill="none" stroke="#333" stroke-width="1"/>
<circle cx="347.5" cy="794.5" r="4.9" fill="#fff" stroke="#1a1a1a" stroke-width="1.7"/><circle cx="347.5" cy="794.5" r="2.4" fill="none" stroke="#333" stroke-width="1"/>
<circle cx="468.75" cy="794.5" r="4.9" fill="#fff" stroke="#1a1a1a" stroke-width="1.7"/><circle cx="468.75" cy="794.5" r="2.4" fill="none" stroke="#333" stroke-width="1"/>
<circle cx="351.75" cy="847.25" r="4.9" fill="#fff" stroke="#1a1a1a" stroke-width="1.7"/><circle cx="351.75" cy="847.25" r="2.4" fill="none" stroke="#333" stroke-width="1"/>
<circle cx="464.5" cy="847.7" r="4.9" fill="#fff" stroke="#1a1a1a" stroke-width="1.7"/><circle cx="464.5" cy="847.7" r="2.4" fill="none" stroke="#333" stroke-width="1"/>
<text x="391.3" y="741.2" font-size="9.2" font-weight="bold" textLength="35" lengthAdjust="spacing" fill="#555" stroke="#222" stroke-width="0.5" font-family="Liberation Sans">RIGID</text>
<text x="369.8" y="855.7" font-size="9.4" font-weight="bold" textLength="77.6" lengthAdjust="spacing" fill="#555" stroke="#222" stroke-width="0.5" font-family="Liberation Sans">INDUSTRIES</text>
<path d="M409.2,859.5 Q412,868 422.8,868.3 Q433.6,868 436.4,859.5" fill="#fff" stroke="#333" stroke-width="1.1"/>
<path d="M417.2,868 L417.2,874 Q417.5,879.6 423.2,879.6 Q429,879.6 429.2,874 L429.2,868" fill="#fff" stroke="#333" stroke-width="1.2"/>
<ellipse cx="386.8" cy="860.2" rx="4" ry="1.5" fill="#666"/>
<path d="M389.2,888 Q395,879.2 408,879.2 Q421,879.2 426.8,888 Z" fill="#fff" stroke="#333" stroke-width="1.1"/>
<line x1="392" y1="886.6" x2="424" y2="886.6" stroke="#999" stroke-width="1.5"/>
<rect x="399.9" y="895.3" width="16.2" height="44.2" fill="#2a2a2a"/>
<line x1="400" y1="897.5" x2="416" y2="898.5" stroke="#888" stroke-width="0.6"/>
<line x1="400" y1="900.4" x2="416" y2="901.4" stroke="#888" stroke-width="0.6"/>
<line x1="400" y1="903.3" x2="416" y2="904.3" stroke="#888" stroke-width="0.6"/>
<line x1="400" y1="906.2" x2="416" y2="907.2" stroke="#888" stroke-width="0.6"/>
<line x1="400" y1="909.1" x2="416" y2="910.1" stroke="#888" stroke-width="0.6"/>
<line x1="400" y1="912.0" x2="416" y2="913.0" stroke="#888" stroke-width="0.6"/>
<line x1="400" y1="914.9" x2="416" y2="915.9" stroke="#888" stroke-width="0.6"/>
<line x1="400" y1="917.8" x2="416" y2="918.8" stroke="#888" stroke-width="0.6"/>
<line x1="400" y1="920.7" x2="416" y2="921.7" stroke="#888" stroke-width="0.6"/>
<line x1="400" y1="923.6" x2="416" y2="924.6" stroke="#888" stroke-width="0.6"/>
<line x1="400" y1="926.5" x2="416" y2="927.5" stroke="#888" stroke-width="0.6"/>
<line x1="400" y1="929.4" x2="416" y2="930.4" stroke="#888" stroke-width="0.6"/>
<line x1="400" y1="932.3" x2="416" y2="933.3" stroke="#888" stroke-width="0.6"/>
<line x1="400" y1="935.2" x2="416" y2="936.2" stroke="#888" stroke-width="0.6"/>
<line x1="400" y1="938.1" x2="416" y2="939.1" stroke="#888" stroke-width="0.6"/>
<line x1="717.8" y1="716" x2="764.6" y2="716" stroke="#555" stroke-width="1.2"/>
<line x1="727.8" y1="716" x2="727.8" y2="759.4" stroke="#555" stroke-width="1.2"/>
<line x1="727.8" y1="792.4" x2="727.8" y2="845.6" stroke="#555" stroke-width="1.2"/>
<line x1="717.8" y1="845.6" x2="769.6" y2="845.6" stroke="#555" stroke-width="1.2"/>
<text x="719.1" y="783.9" font-size="20.1" textLength="16.7" lengthAdjust="spacingAndGlyphs" fill="#222" font-family="Liberation Sans">3&#8243;</text>
<line x1="766.7" y1="845" x2="766.7" y2="942.4" stroke="#555" stroke-width="1.2"/>
<line x1="829.6" y1="927.2" x2="829.6" y2="942.4" stroke="#555" stroke-width="1.2"/>
<line x1="766.7" y1="934.4" x2="775.2" y2="934.4" stroke="#555" stroke-width="1.2"/>
<line x1="812.8" y1="934.4" x2="829.6" y2="934.4" stroke="#555" stroke-width="1.2"/>
<text x="784.3" y="942.6" font-size="19.2" textLength="25.2" lengthAdjust="spacingAndGlyphs" fill="#222" font-family="Liberation Sans">1.7&#8243;</text>
<g transform="translate(770.6,716.8) scale(0.855,0.872) translate(-753,-79)"><path d="M753,79 Q800,77 830,79.5 Q868,83.5 885,89.5 Q904,97 909,105 Q912,110 912,118 L912,190 Q912,203 899,208 Q880,214 850,220 Q810,225.5 776,226 L753,225 Z" fill="#fff" stroke="#222" stroke-width="1.6"/>
<rect x="749.6" y="79" width="3.6" height="146" fill="#fff" stroke="#222" stroke-width="1.2"/>
<rect x="748.6" y="84" width="2" height="10" fill="#999"/><rect x="748.6" y="146" width="2" height="9" fill="#bbb"/><rect x="748.6" y="210" width="2" height="10" fill="#999"/>
<line x1="763.5" y1="79" x2="763.5" y2="226" stroke="#6a6a6a" stroke-width="2.2"/>
<line x1="753" y1="94.5" x2="897" y2="94.5" stroke="#555" stroke-width="0.9"/>
<line x1="753" y1="124.5" x2="912" y2="124.5" stroke="#555" stroke-width="0.9"/>
<line x1="753" y1="180.5" x2="912" y2="180.5" stroke="#555" stroke-width="0.9"/>
<line x1="753" y1="209.6" x2="896" y2="209.6" stroke="#555" stroke-width="0.9"/>
<line x1="899" y1="110.4" x2="912" y2="110.4" stroke="#555" stroke-width="0.9"/>
<line x1="902.8" y1="99" x2="902.8" y2="211" stroke="#666" stroke-width="0.9"/>
<line x1="880.8" y1="96" x2="880.8" y2="215" stroke="#999" stroke-width="0.7"/>
<line x1="837.5" y1="88" x2="837.5" y2="220" stroke="#aaa" stroke-width="0.7"/>
<path d="M778,78.6 Q840,78.8 877,88.5 Q890,93 896.5,102.7 Q855,93 778,89.2 Q772.5,89 772.5,84 Q772.8,78.6 778,78.6 Z" fill="#fff" stroke="#1e1e1e" stroke-width="2.0" stroke-linejoin="round"/>
<path d="M779,97 Q850,99.5 894,112.8 Q899.4,114.2 899.4,118.5 L899.4,122 Q899.4,127 894,126.6 Q850,119.5 779,119 Q774.2,119 774,114.5 L773.5,101.5 Q773.8,97 779,97 Z" fill="#fff" stroke="#1e1e1e" stroke-width="2.0" stroke-linejoin="round"/>
<path d="M781.5,127 Q850,128.5 894,136.8 Q899.4,137.8 899.4,141.5 L899.4,143 Q899.4,147.6 894,147.6 L781.5,148.5 Q777,148.5 776.8,144.5 L776.5,131 Q776.8,127 781.5,127 Z" fill="#fff" stroke="#1e1e1e" stroke-width="2.0" stroke-linejoin="round"/>
<path d="M781.5,156.5 L894,157.2 Q899.4,157.5 899.4,161.5 L899.4,163 Q899.4,168 894,168 Q850,170 781.5,177.5 Q776.8,177.8 776.5,173.5 L776,160.5 Q776.3,156.5 781.5,156.5 Z" fill="#fff" stroke="#1e1e1e" stroke-width="2.0" stroke-linejoin="round"/>
<path d="M779,185 L828,185 L828,206 L779,206.2 Q774.3,206.2 774.2,202 L774,189 Q774.2,185 779,185 Z" fill="#fff" stroke="#1e1e1e" stroke-width="2.0" stroke-linejoin="round"/>
<path d="M854,185.8 Q878,181 894,178 Q899.4,177.3 899.4,181.5 L899.4,187 Q899.4,191 894,191.8 Q875,196.5 854,199.6 Z" fill="#fff" stroke="#1e1e1e" stroke-width="2.0" stroke-linejoin="round"/>
<path d="M777,216.4 Q850,212.5 896,201.4 Q880,212.5 850,218.5 Q815,224.5 777,226 Q772,226 772,221.2 Q772,216.4 777,216.4 Z" fill="#fff" stroke="#1e1e1e" stroke-width="2.0" stroke-linejoin="round"/>
<path d="M779,81.2 Q840,81.5 876,91" fill="none" stroke="#777" stroke-width="0.8"/>
<path d="M780,99.5 Q850,102 893,115" fill="none" stroke="#777" stroke-width="0.8"/>
<path d="M782,129.5 Q850,131 893,139" fill="none" stroke="#777" stroke-width="0.8"/>
<path d="M782,159 L893,159.8" fill="none" stroke="#777" stroke-width="0.8"/>
<path d="M780,187.5 L826,187.5" fill="none" stroke="#777" stroke-width="0.8"/>
<path d="M780,116.5 Q850,117 893,124" fill="none" stroke="#777" stroke-width="0.8"/>
<path d="M782,146 L893,145.2" fill="none" stroke="#777" stroke-width="0.8"/>
<path d="M782,175 Q850,168 893,165.5" fill="none" stroke="#777" stroke-width="0.8"/>
<path d="M780,203.5 L826,203.5" fill="none" stroke="#777" stroke-width="0.8"/>
<path d="M778,223.6 Q815,222 850,216" fill="none" stroke="#777" stroke-width="0.8"/>
<line x1="780.5" y1="97.5" x2="782.5" y2="118.5" stroke="#666" stroke-width="0.8"/>
<line x1="789" y1="97.5" x2="791.5" y2="118.8" stroke="#666" stroke-width="0.8"/>
<line x1="784" y1="127.5" x2="785" y2="148" stroke="#666" stroke-width="0.8"/>
<line x1="793.5" y1="127.5" x2="794" y2="148" stroke="#666" stroke-width="0.8"/>
<line x1="784" y1="157" x2="785" y2="177" stroke="#666" stroke-width="0.8"/>
<line x1="793" y1="157" x2="793.5" y2="176" stroke="#666" stroke-width="0.8"/>
<line x1="781" y1="185.5" x2="782" y2="205.5" stroke="#666" stroke-width="0.8"/>
<line x1="790" y1="185.5" x2="790.5" y2="205.5" stroke="#666" stroke-width="0.8"/>
<line x1="779" y1="79" x2="781" y2="88.6" stroke="#666" stroke-width="0.8"/>
<line x1="893" y1="113.5" x2="893" y2="126" stroke="#666" stroke-width="0.8"/>
<line x1="893" y1="137.5" x2="893" y2="147" stroke="#666" stroke-width="0.8"/>
<line x1="893" y1="158" x2="893" y2="167.5" stroke="#666" stroke-width="0.8"/>
<line x1="893" y1="179" x2="893" y2="191" stroke="#666" stroke-width="0.8"/></g>
<path d="M860,851 Q885,853.5 911,853 L911.5,865.6 Q885,866.5 858,861.5 Z" fill="#fff" stroke="#333" stroke-width="1.1"/>
<line x1="882.7" y1="852.5" x2="882.7" y2="864.8" stroke="#444" stroke-width="0.9"/>
<path d="M802.2,880.4 L805,805 Q806,784 825,774.5 Q840,767.5 858,770 Q880,775 888,795 Q892,806 889,815 L859.6,869.2 L858.9,880.4 Z" fill="#fff" stroke="#222" stroke-width="1.3"/>
<line x1="802.5" y1="855.9" x2="866" y2="855.9" stroke="#333" stroke-width="1.1"/>
<circle cx="828.6" cy="798.1" r="4.6" fill="#fff" stroke="#333" stroke-width="1"/>
<path d="M845,787.6 Q860,788.5 869.5,797 Q873.8,801.5 872.5,805 Q870.5,807.5 866,806 Q864,805 862.5,802 Q856,796.8 846,796.4 Z" fill="#fff" stroke="#222" stroke-width="1.1"/>
<path d="M859.4,790.8 L863.2,802.5" stroke="#222" stroke-width="1.2"/>
<path d="M860.5,792 L868.5,797.5 L862.5,797.8 Z" fill="#888" stroke="#333" stroke-width="0.7"/>
<path d="M863,798.5 L870.5,798.5" stroke="#222" stroke-width="1.2"/>
<circle cx="840" cy="792.7" r="9.3" fill="#fff" stroke="#333" stroke-width="1.1"/><circle cx="840" cy="792.7" r="6.5" fill="none" stroke="#1a1a1a" stroke-width="1.7"/><circle cx="840" cy="792.7" r="3.9" fill="none" stroke="#333" stroke-width="1"/>
<circle cx="846.3" cy="817.4" r="13.8" fill="none" stroke="#333" stroke-width="1"/><circle cx="846.3" cy="817.4" r="8.3" fill="none" stroke="#222" stroke-width="1.4"/><circle cx="846.3" cy="817.4" r="4.5" fill="none" stroke="#333" stroke-width="1.1"/>
<rect x="820.8" y="880.8" width="17.6" height="44" fill="#2a2a2a"/>
<line x1="821" y1="883.0" x2="838.2" y2="884.0" stroke="#888" stroke-width="0.6"/>
<line x1="821" y1="885.9" x2="838.2" y2="886.9" stroke="#888" stroke-width="0.6"/>
<line x1="821" y1="888.8" x2="838.2" y2="889.8" stroke="#888" stroke-width="0.6"/>
<line x1="821" y1="891.7" x2="838.2" y2="892.7" stroke="#888" stroke-width="0.6"/>
<line x1="821" y1="894.6" x2="838.2" y2="895.6" stroke="#888" stroke-width="0.6"/>
<line x1="821" y1="897.5" x2="838.2" y2="898.5" stroke="#888" stroke-width="0.6"/>
<line x1="821" y1="900.4" x2="838.2" y2="901.4" stroke="#888" stroke-width="0.6"/>
<line x1="821" y1="903.3" x2="838.2" y2="904.3" stroke="#888" stroke-width="0.6"/>
<line x1="821" y1="906.2" x2="838.2" y2="907.2" stroke="#888" stroke-width="0.6"/>
<line x1="821" y1="909.1" x2="838.2" y2="910.1" stroke="#888" stroke-width="0.6"/>
<line x1="821" y1="912.0" x2="838.2" y2="913.0" stroke="#888" stroke-width="0.6"/>
<line x1="821" y1="914.9" x2="838.2" y2="915.9" stroke="#888" stroke-width="0.6"/>
<line x1="821" y1="917.8" x2="838.2" y2="918.8" stroke="#888" stroke-width="0.6"/>
<line x1="821" y1="920.7" x2="838.2" y2="921.7" stroke="#888" stroke-width="0.6"/>
<line x1="821" y1="923.6" x2="838.2" y2="924.6" stroke="#888" stroke-width="0.6"/>
</svg></body></html>
